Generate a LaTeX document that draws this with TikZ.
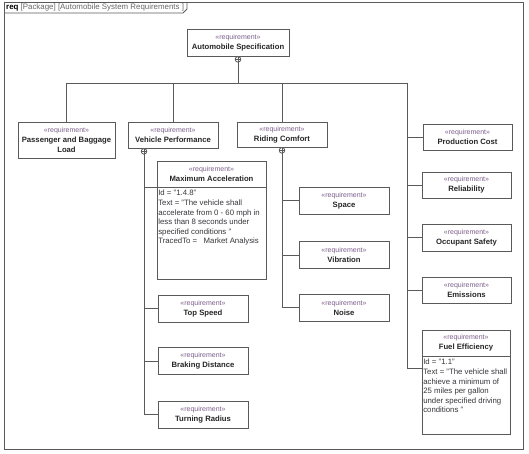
\documentclass[tikz,border=0pt]{standalone}
\usepackage{fontspec}
\setmainfont{Liberation Sans}
\usetikzlibrary{calc}
\definecolor{stereo}{RGB}{125,95,140}
\definecolor{linegray}{RGB}{90,90,90}
\definecolor{textgray}{RGB}{55,55,60}
\def\req{{\color{stereo}\fontsize{7}{9}\selectfont\mdseries «requirement»}}
\def\nestmark(#1){\draw[link,fill=white] ($(#1)+(0,3)$) circle (2.8pt); \draw[link] ($(#1)+(-2.8,3)$) -- ($(#1)+(2.8,3)$) ($(#1)+(0,0.2)$) -- ($(#1)+(0,5.8)$);}
\tikzset{
	link/.style={draw=linegray, line width=0.8pt},
	reqbox/.style={draw=linegray, line width=0.8pt, fill=white, inner sep=1pt, align=center, font=\fontsize{7.7}{10}\selectfont\bfseries, text=black!85},
	compart/.style={draw=linegray, line width=0.8pt, fill=white, inner sep=0pt},
	comptext/.style={anchor=north west, align=left, inner xsep=1.5pt, inner ysep=3.5pt, font=\fontsize{7.8}{9.6}\selectfont, text=textgray},
}

\begin{document}
\begin{tikzpicture}[x=1pt, y=-1pt]
		%%%%% START %%%%%
		\useasboundingbox (0,0) rectangle (529,454);
		
		\draw[link] (4,2) rectangle (523,449);
		\draw[link] (4,13) -- (183,13) -- (187,9) -- (187,2);
		\node[anchor=west, inner sep=0pt, font=\fontsize{7.9}{9}\selectfont, text=black!60] (title) at (6,7.5) {\textbf{\color{black}req} [Package] [Automobile System Requirements ]};
		
		\node[reqbox, minimum width=102pt, minimum height=27pt] (spec) at (238,42.5) {\req\\Automobile Specification};
		
		\node[reqbox, minimum width=97pt, minimum height=36pt] (pass) at (66.5,140) {\req\\Passenger and Baggage\\Load};
		\node[reqbox, minimum width=90pt, minimum height=26pt] (vperf) at (173,135) {\req\\Vehicle Performance};
		\node[reqbox, minimum width=90pt, minimum height=25pt] (ride) at (282,134.5) {\req\\Riding Comfort};
		
		\node[reqbox, minimum width=109pt, minimum height=26pt] (maxacc) at (211.5,174) {\req\\Maximum Acceleration};
		\node[compart, minimum width=109pt, minimum height=92pt] (maxaccbody) at (211.5,233) {};
		\node[comptext] (maxacctext) at (maxaccbody.north west) {Id = "1.4.8"\\Text = "The vehicle shall\\accelerate from 0 - 60 mph in\\less than 8 seconds under\\specified conditions "\\TracedTo = \ \ Market Analysis};
		
		\node[reqbox, minimum width=90pt, minimum height=27pt] (topspeed) at (203,308.5) {\req\\Top Speed};
		\node[reqbox, minimum width=90pt, minimum height=27pt] (brake) at (203,361) {\req\\Braking Distance};
		\node[reqbox, minimum width=90pt, minimum height=27pt] (turn) at (203,414.5) {\req\\Turning Radius};
		
		\node[reqbox, minimum width=90pt, minimum height=27pt] (space) at (344,200.5) {\req\\Space};
		\node[reqbox, minimum width=90pt, minimum height=27pt] (vib) at (344,255) {\req\\Vibration};
		\node[reqbox, minimum width=90pt, minimum height=27pt] (noise) at (344,307.5) {\req\\Noise};
		
		\node[reqbox, minimum width=89pt, minimum height=26pt] (cost) at (467.5,137) {\req\\Production Cost};
		\node[reqbox, minimum width=89pt, minimum height=26pt] (reli) at (466.5,185) {\req\\Reliability};
		\node[reqbox, minimum width=89pt, minimum height=27pt] (safety) at (466.5,237.5) {\req\\Occupant Safety};
		\node[reqbox, minimum width=89pt, minimum height=26pt] (emis) at (466.5,290) {\req\\Emissions};
		
		\node[reqbox, minimum width=88pt, minimum height=26pt] (fuel) at (466,343) {\req\\Fuel Efficiency};
		\node[compart, minimum width=88pt, minimum height=78pt] (fuelbody) at (466,395) {};
		\node[comptext] (fueltext) at (fuelbody.north west) {Id = "1.1"\\Text = "The vehicle shall\\achieve a minimum of\\25 miles per gallon\\under specified driving\\conditions "};
		
		\coordinate (bus) at (238,83);
		\coordinate (rbus) at (407,83);
		\coordinate (vtrunk) at ([xshift=-29pt]vperf.south);
		
		\draw[link] (spec.south) -- (bus) -| (pass.north);
		\draw[link] (bus) -| (vperf.north);
		\draw[link] (bus) -| (ride.north);
		\draw[link] (bus) -- (rbus);
		
		\draw[link] (vtrunk) |- (maxacc.south west);
		\draw[link] (vtrunk) |- (topspeed.west);
		\draw[link] (vtrunk) |- (brake.west);
		\draw[link] (vtrunk) |- (turn.west);
		
		\draw[link] (ride.south) |- (space.west);
		\draw[link] (ride.south) |- (vib.west);
		\draw[link] (ride.south) |- (noise.west);
		
		\draw[link] (rbus) |- (cost.west);
		\draw[link] (rbus) |- (reli.west);
		\draw[link] (rbus) |- (safety.west);
		\draw[link] (rbus) |- (emis.west);
		\draw[link] (rbus) |- ([yshift=-13pt]fuelbody.north west);
		
		\nestmark(spec.south)
		\nestmark(vtrunk)
		\nestmark(ride.south)
		
		%%%%% END %%%%%
	\end{tikzpicture}
\end{document}
